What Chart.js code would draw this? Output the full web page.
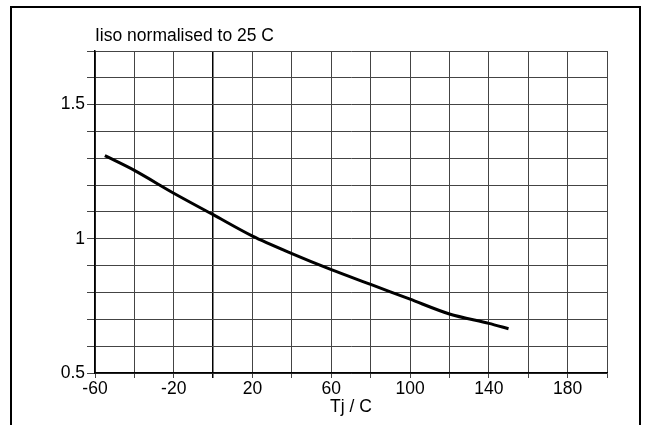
<!DOCTYPE html>
<html>
<head>
<meta charset="utf-8">
<script src="https://cdn.jsdelivr.net/npm/chart.js@4"></script>
<style>
  body { margin: 0; background: #fff; overflow: hidden; }
  #wrap { position: relative; width: 649px; height: 425px; }
  #frame { position: absolute; left: 10px; top: 6px; width: 631px; height: 460px;
           border: 2px solid #000; box-sizing: border-box; }
  canvas { position: absolute; left: 0; top: 0; }
</style>
</head>
<body>
<div id="wrap">
  <div id="frame"></div>
  <canvas id="chart" width="649" height="425"></canvas>
</div>
<script>
// Tj in C, Iiso normalised to 25 C
const temps = [-55, -40, -20, 0, 20, 40, 60, 80, 100, 120, 140, 150];
const iiso = [1.31, 1.255, 1.17, 1.09, 1.01, 0.945, 0.885, 0.83, 0.775, 0.72, 0.685, 0.665];
const xLabels = [-60, -20, 20, 60, 100, 140, 180];
const yLabels = [0.5, 1, 1.5];

const chartTitle = 'Iiso normalised to 25 C';
const fontFamily = '"Liberation Sans", Arial, sans-serif';
const fontSize = 17.5;

// Title in the top left, above the grid
const titlePlugin = {
    id: 'topTitle',
    afterDraw(chart) {
        const ctx = chart.ctx;
        ctx.save();
        ctx.font = fontSize + 'px ' + fontFamily;
        ctx.fillStyle = '#000';
        ctx.textBaseline = 'middle';
        ctx.textAlign = 'left';
        ctx.fillText(chartTitle, chart.chartArea.left, 36);
        ctx.restore();
    }
};

new Chart(document.getElementById('chart'), {
    type: 'line',
    data: {
        datasets: [{
            data: temps.map((t, i) => ({ x: t, y: iiso[i] })),
            borderColor: '#000',
            borderWidth: 3,
            pointRadius: 0,
            tension: 0.3,
            fill: false
        }]
    },
    options: {
        responsive: false,
        animation: false,
        layout: { padding: { top: 51, right: 42, left: 0, bottom: 0 } },
        plugins: { legend: { display: false }, tooltip: { enabled: false } },
        scales: {
            x: {
                type: 'linear',
                min: -60,
                max: 200,
                afterFit(scale) { scale.height = 52; },
                ticks: {
                    stepSize: 20,
                    autoSkip: false,
                    maxRotation: 0,
                    padding: 1,
                    color: '#000',
                    font: { size: fontSize, family: fontFamily },
                    callback: v => xLabels.includes(v) ? String(v) : ''
                },
                grid: {
                    color: ctx => ctx.tick && ctx.tick.value === 0 ? '#000' : '#444',
                    lineWidth: ctx => ctx.tick && ctx.tick.value === 0 ? 1.5 : 1,
                    tickLength: 5
                },
                border: { color: '#000', width: 1.5 },
                title: {
                    display: true,
                    text: 'Tj / C',
                    color: '#000',
                    font: { size: fontSize, family: fontFamily },
                    padding: { top: 0, bottom: 7 }
                }
            },
            y: {
                min: 0.5,
                max: 1.7,
                afterFit(scale) { scale.width = 95; },
                ticks: {
                    stepSize: 0.1,
                    autoSkip: false,
                    padding: 2,
                    color: '#000',
                    font: { size: fontSize, family: fontFamily },
                    callback: v => {
                        const r = Math.round(v * 10) / 10;
                        return yLabels.includes(r) ? String(r) : '';
                    }
                },
                grid: { color: '#444', lineWidth: 1, tickLength: 8 },
                border: { color: '#000', width: 1.5 }
            }
        }
    },
    plugins: [titlePlugin]
});
</script>
</body>
</html>
